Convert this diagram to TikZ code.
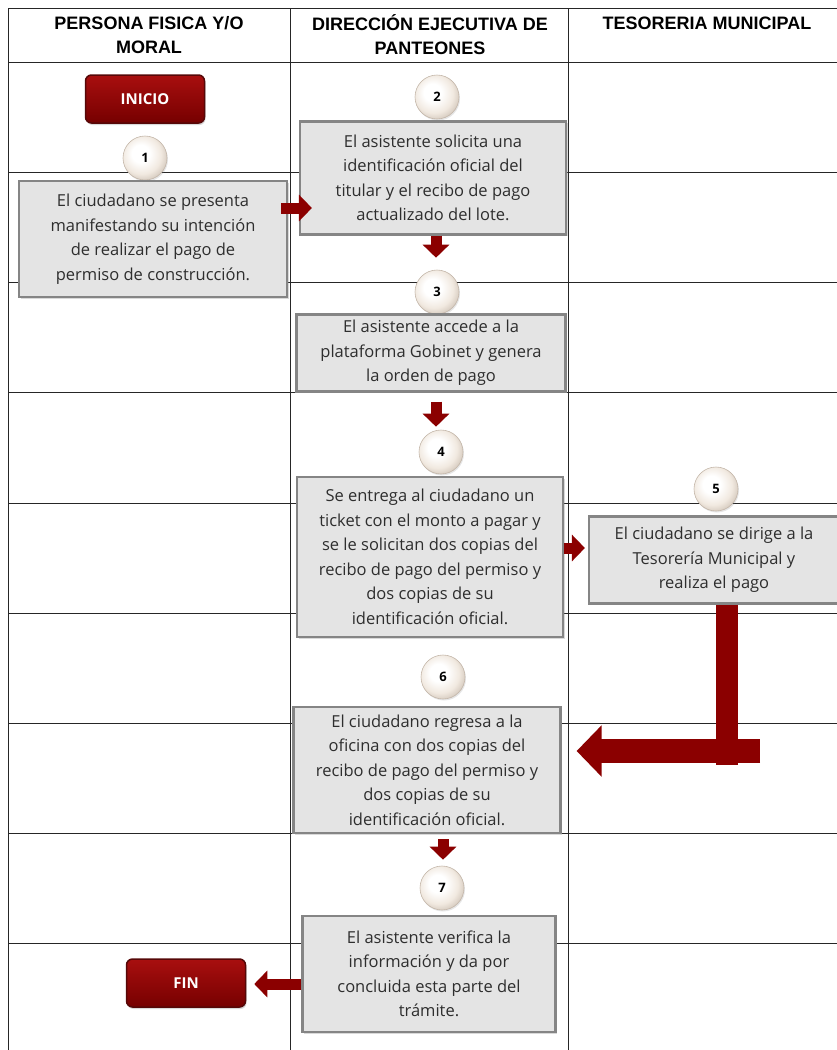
\documentclass[tikz,border=0pt]{standalone}
\usepackage{fontspec}
\setmainfont{Open Sans}
\newfontfamily\headfont{Liberation Sans}
\usepackage{xcolor}
\definecolor{boxgrey}{HTML}{E4E4E4}
\definecolor{edgegrey}{HTML}{858585}
\definecolor{darkred}{HTML}{8B0000}
\definecolor{lightred}{HTML}{A80F0F}
\definecolor{deepred}{HTML}{560808}
\definecolor{pearl}{HTML}{F1E9E0}
\definecolor{ballmid}{HTML}{C4B7AA}
\definecolor{ballrim}{HTML}{8A7D71}
\usepackage{tikz}
\usetikzlibrary{arrows.meta,positioning,shadows}
\pgfdeclareradialshading{pearlball}{\pgfpoint{-6bp}{6bp}}{color(0bp)=(white); color(10bp)=(white); color(22bp)=(pearl); color(34bp)=(ballmid); color(48bp)=(ballrim); color(60bp)=(ballrim)}

\begin{document}
\begin{tikzpicture}[
    x=1pt, y=-1pt,
    every node/.style={font=\fontsize{16.5}{24.5}\selectfont},
    lane/.style={line width=1pt, black!85},
    headtext/.style={font=\headfont\bfseries\fontsize{18}{24}\selectfont, align=center},
    stepbox/.style={draw=edgegrey, line width=2.2pt, fill=boxgrey, align=center, inner sep=2pt, text=black!82,
        drop shadow={opacity=0.3, shadow xshift=1.5pt, shadow yshift=-1.5pt}},
    stepnum/.style={circle, minimum size=44pt, inner sep=0pt, shading=pearlball, draw=ballmid, line width=0.6pt,
        font=\bfseries\fontsize{13}{13}\selectfont, drop shadow={opacity=0.2, shadow xshift=1pt, shadow yshift=-1.5pt}},
    terminal/.style={draw=deepred, line width=1.5pt, top color=lightred, bottom color=darkred!85!black, rounded corners=6pt,
        minimum width=119pt, minimum height=48pt, text=white, font=\bfseries\fontsize{15}{15}\selectfont,
        drop shadow={opacity=0.3, shadow xshift=1pt, shadow yshift=-2pt}},
    flow/.style={darkred, line width=11pt, -{Triangle[length=13pt,width=26pt]}},
    bigflow/.style={darkred, line width=24pt, -{Triangle[length=25pt,width=50pt]}},
    bigbar/.style={darkred, line width=22pt}
]
\useasboundingbox (0,0) rectangle (837,1050);

% Lanes
\draw[lane] (8,8) -- (837,8);
\foreach \y in {62,172,282,392,503,613,723,833,943}
    \draw[lane] (8,\y) -- (837,\y);
\foreach \x in {8,290,568}
    \draw[lane] (\x,8) -- (\x,1050);

% Headers
\node[headtext] (hpersona) at (149,35) {PERSONA FISICA Y/O\\MORAL};
\node[headtext] (hdireccion) at (430,35) {DIRECCIÓN EJECUTIVA DE\\PANTEONES};
\node[headtext] (htesoreria) at (707,23) {TESORERIA MUNICIPAL};

% Steps
\node[terminal] (inicio) at (145,99) {INICIO};
\node[stepnum] (n1) at (145,158) {1};
\node[stepbox, minimum width=268pt, minimum height=116pt] (s1) at (153,239)
    {El ciudadano se presenta\\manifestando su intención\\de realizar el pago de\\permiso de construcción.};

\node[stepnum] (n2) at (437,97) {2};
\node[stepbox, minimum width=266pt, minimum height=113pt] (s2) at (433,178)
    {El asistente solicita una\\identificación oficial del\\titular y el recibo de pago\\actualizado del lote.};

\node[stepnum] (n3) at (437,292) {3};
\node[stepbox, minimum width=269pt, minimum height=77pt] (s3) at (431,353)
    {El asistente accede a la\\plataforma Gobinet y genera\\la orden de pago};

\node[stepnum] (n4) at (441,452) {4};
\node[stepbox, minimum width=266pt, minimum height=160pt] (s4) at (430,557)
    {Se entrega al ciudadano un\\ticket con el monto a pagar y\\se le solicitan dos copias del\\recibo de pago del permiso y\\dos copias de su\\identificación oficial.};

\node[stepnum] (n5) at (716,489) {5};
\node[stepbox, minimum width=250pt, minimum height=87pt] (s5) at (714,560)
    {El ciudadano se dirige a la\\Tesorería Municipal y\\realiza el pago};

\node[stepnum] (n6) at (443,677) {6};
\node[stepbox, minimum width=267pt, minimum height=126pt] (s6) at (427,770)
    {El ciudadano regresa a la\\oficina con dos copias del\\recibo de pago del permiso y\\dos copias de su\\identificación oficial.};

\node[stepnum] (n7) at (442,888) {7};
\node[stepbox, minimum width=253pt, minimum height=116pt] (s7) at (429,974)
    {El asistente verifica la\\información y da por\\concluida esta parte del\\trámite.};

\node[terminal] (fin) at (186,983) {FIN};

% Flow
\draw[flow, shorten <=-7pt, shorten >=-13pt] ([yshift=31pt]s1.east) -- ([yshift=31pt]s1.east -| s2.west);
\draw[flow, shorten >=12pt] ([xshift=3pt]s2.south) -- ([xshift=3pt]s2.south |- n3.north);
\draw[flow, shorten <=9pt, shorten >=3pt] ([xshift=5pt]s3.south) -- ([xshift=5pt]s3.south |- n4.north);
\draw[flow, shorten >=3pt] ([yshift=9pt]s4.east) -- ([yshift=9pt]s4.east -| s5.west);
\draw[bigbar] ([xshift=13pt]s5.south) -- ++(0,160);
\coordinate (turn) at (760,751);
\draw[bigflow, shorten >=15pt] (turn) -- (turn -| s6.east);
\draw[flow, shorten <=5pt, shorten >=6pt] ([xshift=16pt]s6.south) -- ([xshift=16pt]s6.south |- n7.north);
\draw[flow, shorten >=8pt] ([yshift=-10pt]s7.west) -- ([yshift=-10pt]s7.west -| fin.east);
\end{tikzpicture}
\end{document}
